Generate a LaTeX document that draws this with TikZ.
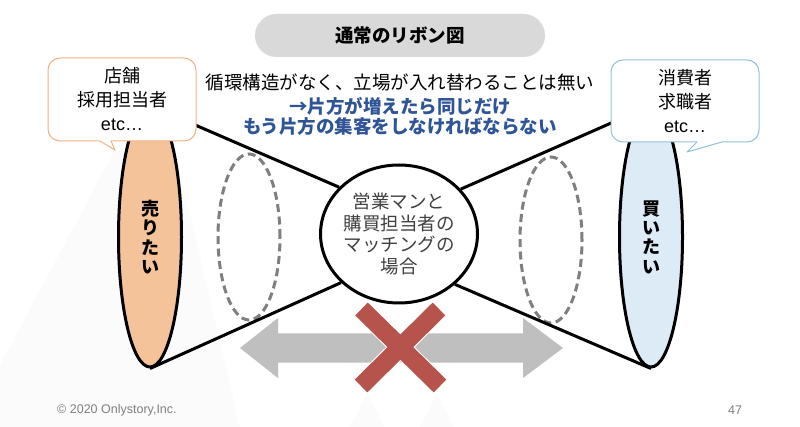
\documentclass[tikz,border=0pt]{standalone}
\usepackage{fontspec}
\setmainfont{Noto Sans CJK JP}
\newfontfamily\latinfont{Liberation Sans}
\usetikzlibrary{shapes.geometric}
\definecolor{pillgray}{HTML}{D9D9D9}
\definecolor{orangefill}{HTML}{F4C39A}
\definecolor{orangeline}{HTML}{F4B183}
\definecolor{bluefill}{HTML}{DDEBF7}
\definecolor{blueline}{HTML}{8FC1DC}
\definecolor{navytext}{HTML}{2F5597}
\definecolor{crossred}{HTML}{B7534D}
\definecolor{arrowgray}{HTML}{BFBFBF}
\definecolor{dashgray}{HTML}{7F7F7F}
\definecolor{circtext}{HTML}{404040}
\definecolor{footgray}{HTML}{7F7F7F}
\definecolor{faint}{HTML}{FBFBFB}
\begin{document}
\begin{tikzpicture}[x=1pt,y=-1pt,
  sideell/.style={ellipse, draw=black, line width=3pt, minimum width=63pt, minimum height=260pt, inner sep=0pt, align=center, font=\bfseries\fontsize{18}{19.3}\selectfont},
  dashell/.style={ellipse, draw=dashgray, line width=3pt, dash pattern=on 8pt off 4.5pt, minimum width=62pt, minimum height=166pt, inner sep=0pt},
  cone/.style={line width=3pt, black},
  callout/.style={rectangle, rounded corners=12pt, fill=white, line width=1pt, minimum width=148pt, minimum height=83pt, inner sep=0pt, align=center, font=\fontsize{18}{24}\selectfont},
  midtext/.style={inner sep=0pt, font=\fontsize{18.5}{22}\selectfont},
  bluetext/.style={inner sep=0pt, text=navytext, font=\bfseries\fontsize{18.5}{22}\selectfont},
  foot/.style={inner sep=0pt, text=footgray, font=\latinfont\fontsize{12.5}{14}\selectfont}
]
\useasboundingbox (0,0) rectangle (800,427);
\fill[white] (0,0) rectangle (800,427);
% faint background shapes
\fill[faint] (115,150) -- (0,365) -- (0,427) -- (240,427) -- (182,180) -- cycle;
\fill[faint] (367,393) -- (350,427) -- (384,427) -- cycle;
\fill[faint] (437,393) -- (420,427) -- (454,427) -- cycle;

% title pill
\node[rectangle, rounded corners=21.5pt, fill=pillgray, minimum width=290pt, minimum height=43pt, inner sep=0pt, font=\bfseries\fontsize{18.5}{22}\selectfont] (title) at (400,35.5) {通常のリボン図};

% main shapes
\node[sideell, fill=orangefill] (L) at (150,237) {売\\り\\た\\い};
\node[sideell, fill=bluefill] (R) at (651,237) {買\\い\\た\\い};
\node[ellipse, draw=black, fill=white, line width=3pt, minimum width=147pt, minimum height=138pt, inner sep=0pt, align=center, text=circtext, font=\fontsize{18.5}{21.5}\selectfont] (C) at (399,234) {営業マンと\\購買担当者の\\マッチングの\\場合};
\node[dashell] (DL) at (249,237) {};
\node[dashell] (DR) at (551,240) {};

% cone lines
\draw[cone] (L.north) -- (C.142);
\draw[cone] (L.south) -- (C.220);
\draw[cone] (R.north) -- (C.36);
\draw[cone] (R.south) -- (C.318);

% callouts
\node[callout, draw=orangeline] (LC) at (122,99.5) {店舗\\採用担当者\\{\latinfont etc…}};
\fill[white] (100.2,139.8) -- (100.2,141) -- (115,150) -- (110.8,141) -- (110.8,139.8) -- cycle;
\draw[orangeline, line width=1pt, line join=round] (100,141) -- (115,150) -- (111,141);
\node[callout, draw=blueline, minimum height=82pt] (RC) at (685,101) {消費者\\求職者\\{\latinfont etc…}};
\fill[white] (697.2,140.8) -- (697.2,142) -- (687,152) -- (721.8,142) -- (721.8,140.8) -- cycle;
\draw[blueline, line width=1pt, line join=round] (697,142) -- (687,152) -- (722,142);

% middle text
\node[midtext] (m1) at (400,82.5) {循環構造がなく、立場が入れ替わることは無い};
\node[bluetext] (m2) at (400,106) {→片方が増えたら同じだけ};
\node[bluetext] (m3) at (400,126.5) {もう片方の集客をしなければならない};

% double arrow
\fill[arrowgray] (240,348) -- (278,318) -- (278,333.5) -- (523,333.5) -- (523,318) -- (563,348) -- (523,378) -- (523,362.5) -- (278,362.5) -- (278,378) -- cycle;

% red cross
\coordinate (x1) at (361.5,309);
\coordinate (x2) at (440,386);
\coordinate (x3) at (439,309);
\coordinate (x4) at (361,386);
\draw[white, line width=20pt] (x1) -- (x2) (x3) -- (x4);
\draw[crossred, line width=18pt] (x1) -- (x2) (x3) -- (x4);

% footer
\node[foot, anchor=west] (copy) at (57,410) {© 2020 Onlystory,Inc.};
\node[foot] (page) at (735,410) {47};
\end{tikzpicture}
\end{document}
